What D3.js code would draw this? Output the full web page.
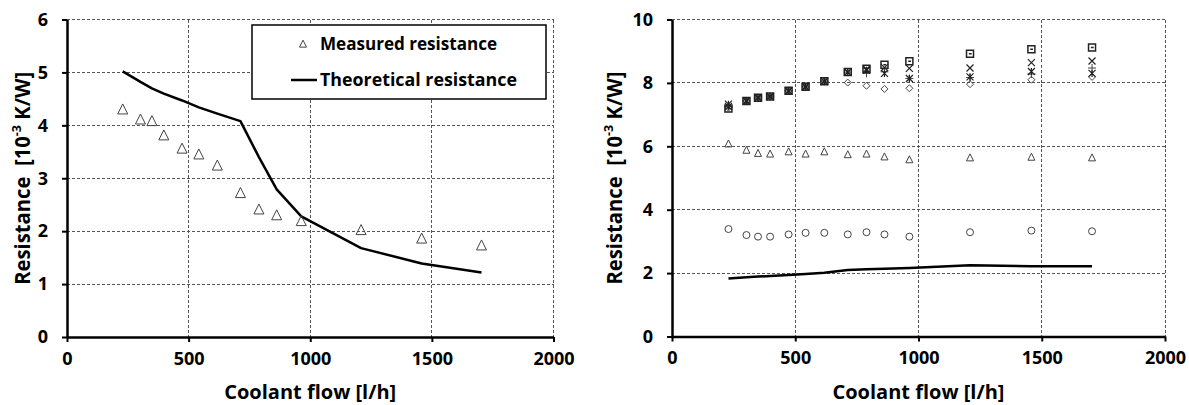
<!DOCTYPE html>
<html>
<head>
<meta charset="utf-8">
<script src="https://cdn.jsdelivr.net/npm/d3@7"></script>
<style>
  body { margin: 0; background: #fff; }
  svg text { font-family: "Open Sans", "DejaVu Sans", sans-serif; font-weight: bold; fill: #000; }
</style>
</head>
<body>
<svg id="chart" width="1189" height="405"></svg>
<script>
// Coolant flow values shared by both panels [l/h]
const flow = [229, 302, 349, 398, 473, 542, 618, 713, 789, 862, 963, 1209, 1458, 1704];

// Left panel
const measured = [4.30, 4.11, 4.08, 3.81, 3.56, 3.45, 3.24, 2.72, 2.41, 2.30, 2.19, 2.02, 1.86, 1.73];
const theoretical = [5.02, 4.82, 4.70, 4.60, 4.47, 4.34, 4.22, 4.08, 3.40, 2.79, 2.28, 1.68, 1.39, 1.22];

// Right panel (one list per marker type)
const circleVals = [3.39, 3.20, 3.15, 3.15, 3.22, 3.27, 3.27, 3.22, 3.29, 3.22, 3.15, 3.29, 3.34, 3.32];
const triangleVals = [6.08, 5.88, 5.78, 5.76, 5.83, 5.76, 5.83, 5.74, 5.76, 5.67, 5.58, 5.64, 5.66, 5.64];
const diamondVals = [7.22, 7.43, 7.53, 7.57, 7.75, 7.88, 8.05, 8.01, 7.91, 7.81, 7.83, 7.96, 8.10, 8.19];
const squareVals = [7.19, 7.43, 7.53, 7.57, 7.75, 7.88, 8.05, 8.34, 8.45, 8.57, 8.68, 8.92, 9.06, 9.12];
const crossVals = [7.26, 7.43, 7.53, 7.57, 7.75, 7.88, 8.05, 8.34, 8.43, 8.48, 8.46, 8.47, 8.64, 8.69];
const starVals = [7.33, 7.43, 7.53, 7.57, 7.75, 7.88, 8.05, 8.34, 8.40, 8.30, 8.14, 8.19, 8.36, 8.30];
const plusVals = [7.26, 7.43, 7.53, 7.57, 7.75, 7.88, 8.05, 8.34, 8.30, 8.35, 8.14, 8.17, 8.28, 8.47];
const theoryRight = [1.83, 1.87, 1.89, 1.91, 1.94, 1.97, 2.01, 2.10, 2.12, 2.14, 2.16, 2.25, 2.22, 2.22];

const xTicks = [0, 500, 1000, 1500, 2000];
const leftYTicks = [0, 1, 2, 3, 4, 5, 6];
const rightYTicks = [0, 2, 4, 6, 8, 10];
const legendLabels = ['Measured resistance', 'Theoretical resistance'];

const svg = d3.select('#chart');
const markerStroke = '#444';

// draws axes, dashed grid and axis titles for one panel, returns the scales
function drawPanel(box, yMax, yTicks) {
    const x = d3.scaleLinear().domain([0, 2000]).range([box.left, box.right]);
    const y = d3.scaleLinear().domain([0, yMax]).range([box.bottom, box.top]);

    // dashed grid
    const grid = svg.append('g').attr('class', 'grid');
    grid.selectAll('line.v').data(xTicks.slice(1)).join('line')
        .attr('x1', d => x(d)).attr('x2', d => x(d))
        .attr('y1', box.top).attr('y2', box.bottom);
    grid.selectAll('line.h').data(yTicks.slice(1)).join('line')
        .attr('x1', box.left).attr('x2', box.right)
        .attr('y1', d => y(d)).attr('y2', d => y(d));
    grid.selectAll('line')
        .attr('stroke', '#555').attr('stroke-width', 1)
        .attr('stroke-dasharray', '3,2').attr('shape-rendering', 'crispEdges');

    // x axis
    const xAxis = svg.append('g')
        .attr('transform', `translate(0,${box.bottom})`)
        .call(d3.axisBottom(x).tickValues(xTicks).tickFormat(d3.format('d'))
            .tickSize(5).tickPadding(10).tickSizeOuter(0));
    // y axis
    const yAxis = svg.append('g')
        .attr('transform', `translate(${box.left},0)`)
        .call(d3.axisLeft(y).tickValues(yTicks).tickFormat(d3.format('d'))
            .tickSize(5).tickPadding(14).tickSizeOuter(0));

    [xAxis, yAxis].forEach(a => {
        a.select('.domain').attr('stroke', '#000').attr('stroke-width', 2.5);
        a.selectAll('.tick line').attr('stroke', '#000').attr('stroke-width', 2);
        a.selectAll('.tick text').style('font-size', '18px').attr('fill', '#000');
    });

    // axis titles
    svg.append('text')
        .attr('x', (box.left + box.right) / 2)
        .attr('y', box.bottom + 62)
        .attr('text-anchor', 'middle')
        .style('font-size', '20px')
        .text('Coolant flow [l/h]');

    const yt = svg.append('text')
        .attr('transform', `translate(${box.titleX},${(box.top + box.bottom) / 2}) rotate(-90)`)
        .attr('text-anchor', 'middle')
        .attr('textLength', 213)
        .attr('lengthAdjust', 'spacingAndGlyphs')
        .style('font-size', '21px')
        .attr('xml:space', 'preserve');
    yt.append('tspan').text('Resistance  [10');
    yt.append('tspan').attr('baseline-shift', 'super').style('font-size', '13px').text('-3');
    yt.append('tspan').text(' K/W]');

    return { x, y };
}

// marker path generators (centered on 0,0)
const markers = {
    triangle: s => `M0,${-s * 0.55}L${s / 2},${s * 0.45}L${-s / 2},${s * 0.45}Z`,
    circle: s => d3.symbol(d3.symbolCircle, Math.PI * (s / 2) * (s / 2))(),
    diamond: s => `M0,${-s / 2}L${s / 2},0L0,${s / 2}L${-s / 2},0Z`,
    square: s => `M${-s / 2},${-s / 2}h${s}v${s}h${-s}Z M${-s / 6},0h${s / 2.5}`,
    cross: s => `M${-s / 2},${-s / 2}L${s / 2},${s / 2}M${s / 2},${-s / 2}L${-s / 2},${s / 2}`,
    star: s => `M${-s / 2},${-s / 2}L${s / 2},${s / 2}M${s / 2},${-s / 2}L${-s / 2},${s / 2}M0,${-s / 2}V${s / 2}`,
    plus: s => `M${-s / 2},0H${s / 2}M0,${-s / 2}V${s / 2}`
};

function drawMarkers(sc, values, shape, size, width, color) {
    svg.append('g').selectAll('path')
        .data(values.map((v, i) => ({ x: flow[i], y: v })))
        .join('path')
        .attr('transform', d => `translate(${sc.x(d.x)},${sc.y(d.y)})`)
        .attr('d', markers[shape](size))
        .attr('fill', 'none')
        .attr('stroke', color || markerStroke)
        .attr('stroke-width', width || 1);
}

function drawLine(sc, values) {
    const line = d3.line().x((d, i) => sc.x(flow[i])).y(d => sc.y(d));
    svg.append('path')
        .datum(values)
        .attr('d', line)
        .attr('fill', 'none')
        .attr('stroke', '#000')
        .attr('stroke-width', 2.5)
        .attr('stroke-linejoin', 'round');
}

// ---- left panel ----
const left = drawPanel({ left: 67, right: 553.5, top: 19.5, bottom: 337, titleX: 30 }, 6, leftYTicks);
drawLine(left, theoretical);
drawMarkers(left, measured, 'triangle', 10, 1);

// legend
const lg = svg.append('g');
lg.append('rect')
    .attr('x', 252).attr('y', 25).attr('width', 294).attr('height', 74)
    .attr('fill', '#fff').attr('stroke', '#000').attr('stroke-width', 1.5);
lg.append('path')
    .attr('transform', 'translate(303,44)')
    .attr('d', markers.triangle(7))
    .attr('fill', 'none').attr('stroke', markerStroke);
lg.append('line')
    .attr('x1', 291).attr('x2', 317).attr('y1', 80).attr('y2', 80)
    .attr('stroke', '#000').attr('stroke-width', 2.5);
lg.selectAll('text').data(legendLabels).join('text')
    .attr('x', 320)
    .attr('y', (d, i) => 44 + i * 36)
    .attr('dy', '0.35em')
    .attr('textLength', (d, i) => i === 0 ? 177 : 197)
    .attr('lengthAdjust', 'spacingAndGlyphs')
    .style('font-size', '18px')
    .text(d => d);

// ---- right panel ----
const right = drawPanel({ left: 672, right: 1165, top: 19.5, bottom: 336.5, titleX: 622 }, 10, rightYTicks);
drawLine(right, theoryRight);
drawMarkers(right, circleVals, 'circle', 7, 1);
drawMarkers(right, triangleVals, 'triangle', 7, 1);
drawMarkers(right, diamondVals, 'diamond', 7, 1);
drawMarkers(right, plusVals, 'plus', 8, 1);
drawMarkers(right, starVals, 'star', 7, 1.2, '#222');
drawMarkers(right, crossVals, 'cross', 7, 1.2, '#222');
drawMarkers(right, squareVals, 'square', 7, 1.5, '#222');
</script>
</body>
</html>
